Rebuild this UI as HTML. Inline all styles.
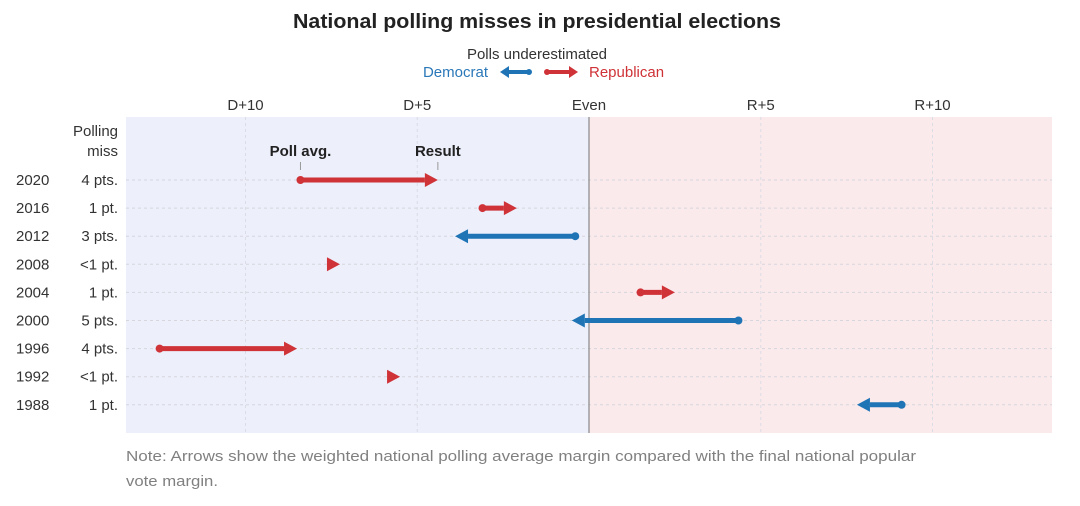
<!DOCTYPE html>
<html><head><meta charset="utf-8"><style>
body{margin:0;background:#fff;width:1080px;height:501px;overflow:hidden;font-family:"Liberation Sans",sans-serif;}
svg text{font-family:"Liberation Sans",sans-serif;}
</style></head><body>
<svg id="chart" width="1080" height="501" viewBox="0 0 1080 501">
<text x="537" y="28" text-anchor="middle" font-size="20" font-weight="bold" fill="#222" textLength="488" lengthAdjust="spacingAndGlyphs">National polling misses in presidential elections</text>
<g>
<text x="537" y="59" text-anchor="middle" font-size="15" fill="#333">Polls underestimated</text>
<text x="488" y="77" text-anchor="end" font-size="15" fill="#2a78b8">Democrat</text>
<text x="589" y="77" font-size="15" fill="#cf3237">Republican</text>
<g><line x1="506" y1="72" x2="529" y2="72" stroke="#1f74b5" stroke-width="4"/><polygon points="500,72 509,66 509,78" fill="#1f74b5"/><circle cx="529" cy="72" r="3" fill="#1f74b5"/></g>
<g><line x1="547" y1="72" x2="570" y2="72" stroke="#cf3237" stroke-width="4"/><polygon points="578,72 569,66 569,78" fill="#cf3237"/><circle cx="547" cy="72" r="3" fill="#cf3237"/></g>
</g>
<rect x="126" y="117" width="463" height="316" fill="#edeffb"/>
<rect x="589" y="117" width="463" height="316" fill="#fbeaec"/>
<g id="grid"></g>
<g id="labels"></g>
<g id="marks"></g>
<text x="118" y="136" text-anchor="end" font-size="15" fill="#333">Polling</text>
<text x="118" y="156" text-anchor="end" font-size="15" fill="#333">miss</text>
<text x="126" y="461" font-size="15" fill="#808080" textLength="790" lengthAdjust="spacingAndGlyphs">Note: Arrows show the weighted national polling average margin compared with the final national popular</text>
<text x="126" y="486" font-size="15" fill="#808080" textLength="92" lengthAdjust="spacingAndGlyphs">vote margin.</text>
</svg>
<script>
const years=["2020","2016","2012","2008","2004","2000","1996","1992","1988"];
const missLabels=["4 pts.","1 pt.","3 pts.","<1 pt.","1 pt.","5 pts.","4 pts.","<1 pt.","1 pt."];
const pollAvg=[-8.4,-3.1,-0.4,-7.7,1.5,4.35,-12.5,-5.9,9.1];
const result=[-4.4,-2.1,-3.9,-7.25,2.5,-0.5,-8.5,-5.5,7.8];
const tickValues=[-10,-5,0,5,10];
const tickLabels=["D+10","D+5","Even","R+5","R+10"];
const NS="http://www.w3.org/2000/svg";
const x=v=>589+v*34.35;
const y=i=>180+i*28.1;
function mk(tag,attrs,parent){const e=document.createElementNS(NS,tag);for(const k in attrs)e.setAttribute(k,attrs[k]);parent.appendChild(e);return e;}
const grid=document.getElementById('grid'),labels=document.getElementById('labels'),marks=document.getElementById('marks');
tickValues.forEach((v,i)=>{
 if(v!==0){const l=mk('line',{x1:x(v),x2:x(v),y1:117,y2:433,stroke:'#dcdce4','stroke-width':1,'stroke-dasharray':'3,3'},grid);
 
 }
 const t=mk('text',{x:x(v),y:110,'text-anchor':'middle','font-size':15,fill:'#333'},labels);t.textContent=tickLabels[i];
 
 
});
years.forEach((yr,i)=>{
 const g=mk('line',{x1:126,x2:1052,y1:y(i),y2:y(i),stroke:'#d6d6dc','stroke-width':1,'stroke-dasharray':'3,3'},grid);
 
 
 const a=mk('text',{x:16,y:y(i)+5,'font-size':15,fill:'#333'},labels);a.textContent=yr;
 
 
 const b=mk('text',{x:118,y:y(i)+5,'text-anchor':'end','font-size':15,fill:'#333'},labels);b.textContent=missLabels[i];
 
 
});
const ev=mk('line',{x1:589,x2:589,y1:117,y2:433,stroke:'#888','stroke-width':1.2},grid);


years.forEach((yr,i)=>{
 const p=x(pollAvg[i]),r=x(result[i]),cy=y(i);
 const dir=r>p?1:-1,col=dir>0?'#cf3237':'#1f74b5';
 const g=mk('g',{},marks);
 
 
 const head=13;
 const base=r-dir*head;
 if((base-p)*dir>4){
  mk('line',{x1:p,x2:base,y1:cy,y2:cy,stroke:col,'stroke-width':5},g);
  mk('circle',{cx:p,cy:cy,r:4,fill:col},g);
 }
 mk('polygon',{points:`${r},${cy} ${base},${cy-7} ${base},${cy+7}`,fill:col},g);
});
const a1=mk('text',{x:x(pollAvg[0]),y:156,'text-anchor':'middle','font-size':15,'font-weight':'bold',fill:'#222'},labels);a1.textContent='Poll avg.';


const a2=mk('text',{x:x(result[0]),y:156,'text-anchor':'middle','font-size':15,'font-weight':'bold',fill:'#222'},labels);a2.textContent='Result';


[pollAvg[0],result[0]].forEach(v=>{const t=mk('line',{x1:x(v),x2:x(v),y1:162,y2:170,stroke:'#999','stroke-width':1},labels);

});
</script>
</body></html>
